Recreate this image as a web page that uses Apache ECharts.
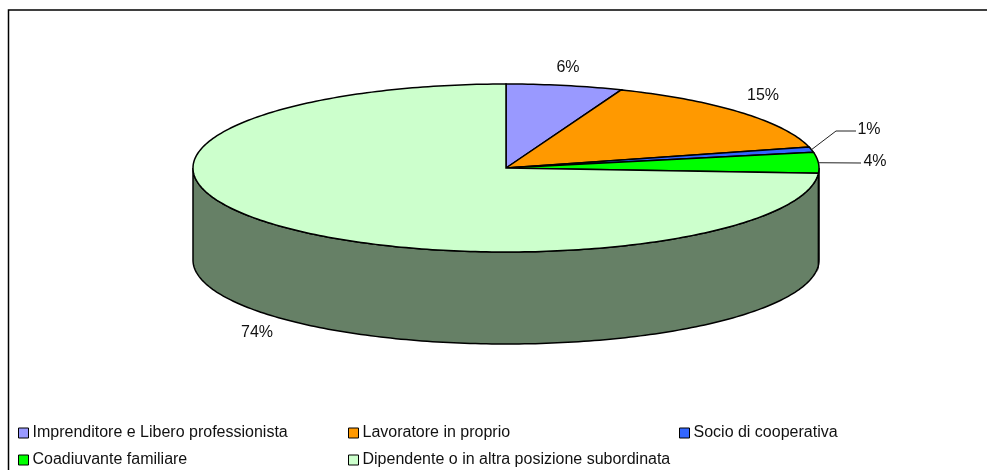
<!DOCTYPE html>
<html>
<head>
<meta charset="utf-8">
<style>
html, body { margin: 0; padding: 0; background: #fff; }
#chart { width: 987px; height: 470px; }
</style>
<script src="https://cdn.jsdelivr.net/npm/echarts@6/dist/echarts.min.js"></script>
</head>
<body>
<div id="chart"></div>
<script>
// dati
var categories = [
    'Imprenditore e Libero professionista',
    'Lavoratore in proprio',
    'Socio di cooperativa',
    'Coadiuvante familiare',
    'Dipendente o in altra posizione subordinata'
];
var shares = [6, 15, 1, 4, 74];

var topColors = ['#9999ff', '#ff9900', '#3366ff', '#00ff00', '#ccffcc'];
var sideColors = ['#4d4d80', '#805000', '#1a3380', '#008000', '#668066'];

// geometria della torta e posizione delle etichette
var cx = 506, cy = 168, rx = 313, ry = 84, depth = 92;
var labelSpots = [[568, 68], [763, 96], [869, 130], [875, 162], [257, 333]];
var leaderEnds = [null, null, [[836, 131], [856, 131]], [[861, 163]], null];
var legendSpots = [[18, 425], [348, 425], [679, 425], [18, 452], [348, 452]];

var total = shares.reduce(function (a, b) { return a + b; }, 0);

function rim(deg, drop) {
    var a = deg * Math.PI / 180;
    return [cx + rx * Math.sin(a), cy - ry * Math.cos(a) + (drop || 0)];
}

function arc(from, to, drop) {
    var pts = [];
    for (var d = from; d < to; d += 1) pts.push(rim(d, drop));
    pts.push(rim(to, drop));
    return pts;
}

function renderSlice(idx) {
    return function (params, api) {
        var from = api.value(0), to = api.value(1);
        var mid = (from + to) / 2;
        var line = { stroke: '#000', lineWidth: 1.5 };
        var children = [];

        // parete laterale, solo per la parte davanti
        var s0 = Math.max(from, 90), s1 = Math.min(to, 270);
        if (s1 > s0) {
            children.push({
                type: 'polygon',
                z2: 1,
                shape: { points: arc(s0, s1, 0).concat(arc(s0, s1, depth).reverse()) },
                style: Object.assign({ fill: sideColors[idx] }, line)
            });
        }

        children.push({
            type: 'polygon',
            z2: 2,
            shape: { points: [[cx, cy]].concat(arc(from, to, 0)) },
            style: Object.assign({ fill: topColors[idx] }, line)
        });

        if (leaderEnds[idx]) {
            children.push({
                type: 'polyline',
                z2: 3,
                shape: { points: [rim(mid, 0)].concat(leaderEnds[idx]) },
                style: { stroke: '#222', lineWidth: 1, fill: null }
            });
        }

        children.push({
            type: 'text',
            z2: 3,
            style: {
                text: Math.round(shares[idx] / total * 100) + '%',
                x: labelSpots[idx][0],
                y: labelSpots[idx][1],
                align: 'center',
                verticalAlign: 'middle',
                fill: '#111',
                font: '16px "Liberation Sans", Arial, sans-serif'
            }
        });

        return { type: 'group', children: children };
    };
}

var running = 0;
var series = categories.map(function (name, i) {
    var from = running / total * 360;
    running += shares[i];
    var to = running / total * 360;
    return {
        name: name,
        type: 'custom',
        coordinateSystem: 'none',
        silent: true,
        itemStyle: { color: topColors[i] },
        renderItem: renderSlice(i),
        data: [[from, to]]
    };
});

var legends = categories.map(function (name, i) {
    return {
        data: [name],
        left: legendSpots[i][0] - 5,
        top: legendSpots[i][1] - 5,
        orient: 'horizontal',
        icon: 'rect',
        itemWidth: 10,
        itemHeight: 10,
        itemGap: 0,
        padding: 5,
        selectedMode: false,
        itemStyle: { borderColor: '#000', borderWidth: 1 },
        textStyle: {
            color: '#111',
            fontFamily: '"Liberation Sans", Arial, sans-serif',
            fontSize: 16,
            padding: [0, 0, 0, -1]
        }
    };
});

var chart = echarts.init(document.getElementById('chart'), null, { renderer: 'canvas' });
chart.setOption({
    animation: false,
    backgroundColor: '#fff',
    legend: legends,
    graphic: [{
        type: 'polyline',
        silent: true,
        shape: { points: [[8.5, 470], [8.5, 10], [987, 10]] },
        style: { stroke: '#000', lineWidth: 1.5, fill: null }
    }],
    series: series
});
</script>
</body>
</html>
